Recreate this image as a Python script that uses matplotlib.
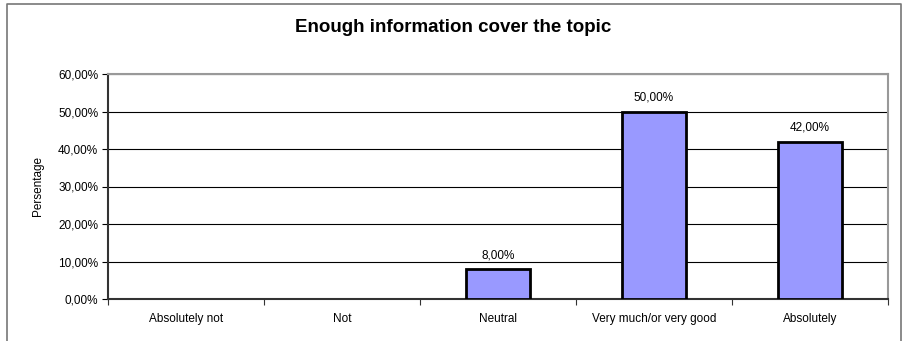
import matplotlib.pyplot as plt
import numpy as np
from matplotlib.lines import Line2D
from matplotlib.ticker import FixedLocator, FuncFormatter

plt.rcParams['font.family'] = ['Liberation Sans', 'DejaVu Sans']

# Data
categories = ["Absolutely not", "Not", "Neutral", "Very much/or very good", "Absolutely"]
values = [0, 0, 8, 50, 42]
bar_labels = ["", "", "8,00%", "50,00%", "42,00%"]
yticks = [0, 10, 20, 30, 40, 50, 60]

fig = plt.figure(figsize=(9.07, 3.41), dpi=100)
ax = fig.add_axes([108 / 907, 1 - 299 / 341, 780 / 907, 225 / 341])

x = np.arange(len(categories))
edge_w = [2 if v > 0 else 0 for v in values]
bars = ax.bar(x, values, width=0.41, color="#9999ff", edgecolor="black", linewidth=edge_w, zorder=3)
for b, lab in zip(bars, bar_labels):
    if lab:
        ax.text(b.get_x() + b.get_width() / 2, b.get_height() + 2.0, lab,
                ha="center", va="bottom", fontsize=8.5)

ax.set_xlim(-0.5, len(categories) - 0.5)
ax.set_ylim(0, 60)
ax.set_yticks(yticks)
ax.yaxis.set_major_formatter(FuncFormatter(lambda v, p: f"{v:.2f}%".replace(".", ",")))
ax.grid(axis="y", color="black", linewidth=0.8, zorder=0)

ax.set_xticks(x)
ax.set_xticklabels(categories, fontsize=8.5)
ax.xaxis.set_minor_locator(FixedLocator(np.arange(-0.5, len(categories), 1.0)))
ax.tick_params(axis="x", which="major", length=0, pad=10)
ax.tick_params(axis="x", which="minor", length=4, width=0.8, color="#333333")
ax.tick_params(axis="y", length=4, width=0.8, labelsize=8.5, pad=3)

ax.set_ylabel("Persentage", fontsize=8.5, labelpad=10)

for side in ["top", "right"]:
    ax.spines[side].set_color("#999999")
    ax.spines[side].set_linewidth(1.5)
ax.spines["left"].set_color("#333333")
ax.spines["left"].set_linewidth(1.5)
ax.spines["bottom"].set_color("#333333")
ax.spines["bottom"].set_linewidth(1.5)

fig.text(0.5, 1 - 27 / 341, "Enough information cover the topic",
         ha="center", va="center", fontsize=13.5, fontweight="bold")

# outer chart border (bottom edge is cut off)
bx0, bx1, by = 7 / 907, 901 / 907, 1 - 4 / 341
fig.add_artist(Line2D([bx0, bx0, bx1, bx1], [0, by, by, 0], color="#777777", linewidth=1.2))

fig.savefig("out.png", dpi=100)
